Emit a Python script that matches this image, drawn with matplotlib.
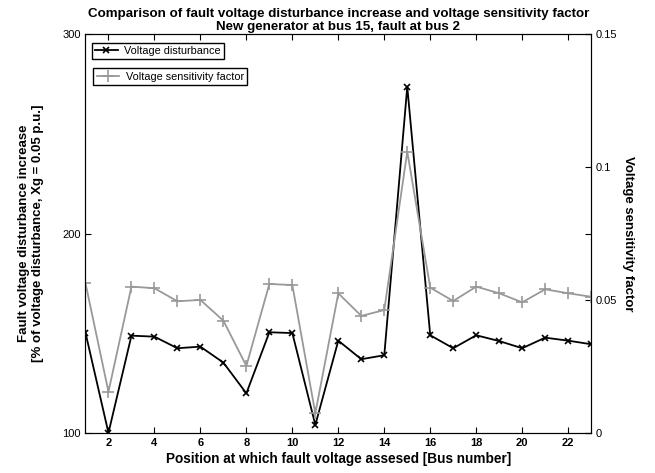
import numpy as np
import matplotlib
matplotlib.use("Agg")
import matplotlib.pyplot as plt

plt.rcParams['font.family'] = ['Liberation Sans', 'DejaVu Sans']

# bus numbers where the fault voltage is assessed
bus = np.arange(1, 24)

# fault voltage disturbance increase [% of voltage disturbance]
disturbance = [150.4, 100.2, 148.9, 148.4, 142.6, 143.4, 135.4, 120.0, 150.6, 150.2,
               104.2, 146.4, 137.1, 139.1, 273.6, 149.1, 142.6, 149.1, 146.2, 142.6,
               147.9, 146.4, 144.6]

# voltage sensitivity factor
sensitivity = [0.0564, 0.0156, 0.0551, 0.0545, 0.0496, 0.0501, 0.0423, 0.0253, 0.0561, 0.0557,
               0.0075, 0.0526, 0.0441, 0.0463, 0.1058, 0.0547, 0.0497, 0.0551, 0.0526, 0.0492,
               0.0541, 0.0526, 0.0513]

gray = '#999999'

fig = plt.figure(figsize=(6.55, 4.73), dpi=100)
ax = fig.add_axes([0.1305, 0.084, 0.772, 0.844])
ax2 = ax.twinx()

l1, = ax.plot(bus, disturbance, color='black', lw=1.3, marker='x', ms=4, mew=1.2,
              label='Voltage disturbance')
l2, = ax2.plot(bus, sensitivity, color=gray, lw=1.3, marker='+', ms=8, mew=1.2,
               label='Voltage sensitivity factor')

ax.set_xlim(1, 23)
ax.set_ylim(100, 300)
ax.set_yticks([100, 200, 300])
ax.set_xticks(range(2, 23, 2))
ax2.set_ylim(0, 0.15)
ax2.set_yticks([0, 0.05, 0.1, 0.15])
ax2.set_yticklabels(['0', '0.05', '0.1', '0.15'])

ax.tick_params(direction='in', top=True, right=True, labelsize=8, length=4)
for lab in ax.get_xticklabels():
    lab.set_fontweight('bold')
ax2.tick_params(direction='in', labelsize=8, length=4)

ax.set_xlabel('Position at which fault voltage assesed [Bus number]', fontsize=9.8,
              fontweight='bold', labelpad=3)
ax.set_ylabel('Fault voltage disturbance increase\n[% of voltage disturbance, Xg = 0.05 p.u.]',
              fontsize=9.5, fontweight='bold', labelpad=13)
ax2.set_ylabel('Voltage sensitivity factor', fontsize=9.5, fontweight='bold',
               rotation=270, labelpad=12)
ax.set_title('Comparison of fault voltage disturbance increase and voltage sensitivity factor\n'
             'New generator at bus 15, fault at bus 2', fontsize=9.6, fontweight='bold', pad=3,
             linespacing=1.15)

leg1 = ax2.legend(handles=[l1], loc='upper left', bbox_to_anchor=(0.012, 0.978), fontsize=7.8,
                  fancybox=False, edgecolor='black', framealpha=1, handlelength=2.1,
                  handletextpad=0.6, borderpad=0.3, borderaxespad=0)
leg1.get_frame().set_linewidth(1.0)
ax2.add_artist(leg1)
leg2 = ax2.legend(handles=[l2], loc='upper left', bbox_to_anchor=(0.0154, 0.914), fontsize=7.8,
                  fancybox=False, edgecolor='black', framealpha=1, handlelength=2.1,
                  handletextpad=0.6, borderpad=0.3, borderaxespad=0)
leg2.get_frame().set_linewidth(1.0)

fig.savefig('out.png', dpi=100)
